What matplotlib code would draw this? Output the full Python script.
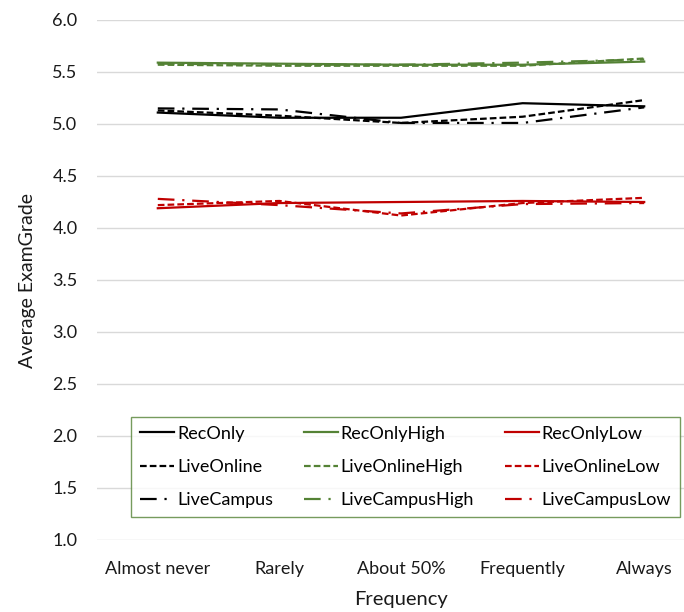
import numpy as np
import matplotlib
matplotlib.use('Agg')
import matplotlib.pyplot as plt

plt.rcParams['font.family'] = ['Lato', 'DejaVu Sans']

freq = ['Almost never', 'Rarely', 'About 50%', 'Frequently', 'Always']

rec_only = [5.11, 5.06, 5.06, 5.20, 5.17]
live_online = [5.13, 5.08, 5.01, 5.07, 5.23]
live_campus = [5.15, 5.14, 5.01, 5.01, 5.16]

rec_only_high = [5.59, 5.58, 5.57, 5.57, 5.60]
live_online_high = [5.57, 5.56, 5.56, 5.56, 5.63]
live_campus_high = [5.58, 5.57, 5.57, 5.59, 5.62]

rec_only_low = [4.19, 4.24, 4.25, 4.26, 4.25]
live_online_low = [4.22, 4.26, 4.12, 4.24, 4.29]
live_campus_low = [4.28, 4.22, 4.14, 4.23, 4.24]

black = '#000000'
green = '#548235'
red = '#C00000'
solid = (None, None)
short = (3, 1.4)
longdot = (7.5, 3.5, 1, 3.5)

series = [
    ('RecOnly', rec_only, black, solid),
    ('LiveOnline', live_online, black, short),
    ('LiveCampus', live_campus, black, longdot),
    ('RecOnlyHigh', rec_only_high, green, solid),
    ('LiveOnlineHigh', live_online_high, green, short),
    ('LiveCampusHigh', live_campus_high, green, longdot),
    ('RecOnlyLow', rec_only_low, red, solid),
    ('LiveOnlineLow', live_online_low, red, short),
    ('LiveCampusLow', live_campus_low, red, longdot),
]

fig = plt.figure(figsize=(6.84, 6.12), dpi=100)
ax = fig.add_axes([97/684, 72/612, 608/684, 520/612])

x = np.arange(len(freq))
for name, vals, col, dash in series:
    line, = ax.plot(x, vals, color=col, lw=1.6, label=name)
    if dash[0] is not None:
        line.set_dashes(dash)

ax.set_xlim(-0.5, 4.5)
ax.set_ylim(1.0, 6.0)
ax.set_yticks(np.arange(1.0, 6.01, 0.5))
ax.set_yticklabels(['%.1f' % v for v in np.arange(1.0, 6.01, 0.5)])
ax.set_xticks(x)
ax.set_xticklabels(freq)
ax.tick_params(length=0, labelsize=13, colors='#1a1a1a')
ax.tick_params(axis='x', pad=15)
ax.tick_params(axis='y', pad=14)
ax.grid(axis='y', color='#D9D9D9', lw=1)
ax.set_axisbelow(True)
for s in ax.spines.values():
    s.set_visible(False)

ax.set_ylabel('Average ExamGrade', fontsize=14, color='#1a1a1a', labelpad=12)
ax.set_xlabel('Frequency', fontsize=14.5, color='#1a1a1a', labelpad=10)

leg = ax.legend(ncol=3, loc='lower left', bbox_to_anchor=(0.056, 0.044, 0.903, 0.2),
                mode='expand', fontsize=13, frameon=True, fancybox=False,
                borderaxespad=0, handlelength=1.9, handletextpad=0.15,
                labelspacing=0.95, borderpad=0.5, columnspacing=0.5)
leg.get_frame().set_edgecolor(green)
leg.get_frame().set_linewidth(1.0)

fig.savefig('out.png', dpi=100)
